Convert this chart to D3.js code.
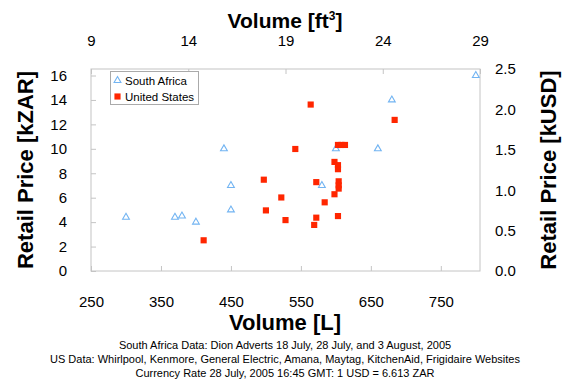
<!DOCTYPE html>
<html>
<head>
<meta charset="utf-8">
<script src="https://cdn.jsdelivr.net/npm/d3@7"></script>
<style>
  body { margin: 0; background: #fff; }
  svg { font-family: "Liberation Sans", Arial, Helvetica, sans-serif; }
</style>
</head>
<body>
<div id="chart"></div>
<script>
// ============================================
// DATA
// ============================================

// South Africa: volume in litres, price in kZAR
const saVolume = [300, 370, 380, 400, 440, 450, 450, 580, 600, 660, 680, 800];
const saPrice  = [4.4, 4.4, 4.5, 4.0, 10.0, 7.0, 5.0, 7.0, 10.0, 10.0, 14.0, 16.0];

// United States: volume in litres, price in kUSD
const usVolume = [411, 564, 542, 497, 500, 522, 528, 569, 572, 572, 584, 598, 598,
                  603, 603, 604, 604, 604, 603, 603, 608, 613, 684];
const usPrice  = [0.38, 2.06, 1.51, 1.13, 0.75, 0.91, 0.63, 0.57, 0.66, 1.10, 0.85, 0.95, 1.35,
                  1.31, 1.26, 1.11, 1.06, 1.02, 0.68, 1.56, 1.56, 1.56, 1.87];

const usdToZar = 6.613;

const litreTicks = [250, 350, 450, 550, 650, 750];
const cubicFootTicks = [9, 14, 19, 24, 29];
const zarTicks = [0, 2, 4, 6, 8, 10, 12, 14, 16];
const usdTicks = [0, 0.5, 1.0, 1.5, 2.0, 2.5];

const footnotes = [
  'South Africa Data: Dion Adverts 18 July, 28 July, and 3 August, 2005',
  'US Data: Whirlpool, Kenmore, General Electric, Amana, Maytag, KitchenAid, Frigidaire Websites',
  'Currency Rate 28 July, 2005 16:45 GMT: 1 USD = 6.613 ZAR'
];

// ============================================
// LAYOUT
// ============================================

const W = 568, H = 381;
const plot = { left: 91, top: 69, right: 480, bottom: 271 };
const frameColor = '#c4c4c4';
const saColor = '#72b4f2';
const usColor = '#ff2600';

const svg = d3.select('#chart').append('svg')
  .attr('width', W)
  .attr('height', H);

const x = d3.scaleLinear().domain([250, 806]).range([plot.left, plot.right]);
const xTop = d3.scaleLinear().domain([9, 29]).range([plot.left, plot.right]);
const yUsd = d3.scaleLinear().domain([0, 2.5]).range([plot.bottom, plot.top]);
const y = d3.scaleLinear().domain([0, 2.5 * usdToZar]).range([plot.bottom, plot.top]);

// frame
svg.append('rect')
  .attr('x', plot.left).attr('y', plot.top)
  .attr('width', plot.right - plot.left)
  .attr('height', plot.bottom - plot.top)
  .attr('fill', 'none')
  .attr('stroke', frameColor);

function styleAxis(g) {
  g.select('.domain').remove();
  g.selectAll('line').attr('stroke', frameColor);
  g.selectAll('text')
    .attr('fill', '#000')
    .style('font-size', '15px')
    .style('font-family', '"Liberation Sans", Arial, sans-serif');
  return g;
}

svg.append('g')
  .attr('transform', `translate(0,${plot.bottom})`)
  .call(d3.axisBottom(x).tickValues(litreTicks).tickSizeInner(-5).tickSizeOuter(0).tickPadding(25))
  .call(styleAxis);

svg.append('g')
  .attr('transform', `translate(0,${plot.top})`)
  .call(d3.axisTop(xTop).tickValues(cubicFootTicks).tickSizeInner(-5).tickSizeOuter(0).tickPadding(23))
  .call(styleAxis);

svg.append('g')
  .attr('transform', `translate(${plot.left},0)`)
  .call(d3.axisLeft(y).tickValues(zarTicks).tickSizeInner(-5).tickSizeOuter(0).tickPadding(24))
  .call(styleAxis);

svg.append('g')
  .attr('transform', `translate(${plot.right},0)`)
  .call(d3.axisRight(yUsd).tickValues(usdTicks).tickFormat(d3.format('.1f'))
    .tickSizeInner(0).tickSizeOuter(0).tickPadding(15))
  .call(styleAxis);

// ============================================
// MARKS
// ============================================

const saPoints = saVolume.map((v, i) => ({ v, p: saPrice[i] }));
const usPoints = usVolume.map((v, i) => ({ v, p: usPrice[i] }));

const tri = d3.symbol(d3.symbolTriangle, 20);
const sq = d3.symbol(d3.symbolSquare, 38);

svg.append('g').selectAll('path')
  .data(saPoints)
  .join('path')
  .attr('d', tri)
  .attr('transform', d => `translate(${x(d.v)},${y(d.p)})`)
  .attr('fill', 'none')
  .attr('stroke', saColor)
  .attr('stroke-width', 1.1);

svg.append('g').selectAll('path')
  .data(usPoints)
  .join('path')
  .attr('d', sq)
  .attr('transform', d => `translate(${x(d.v)},${yUsd(d.p)})`)
  .attr('fill', usColor);

// ============================================
// LEGEND
// ============================================

const legend = svg.append('g');
legend.append('rect')
  .attr('x', 110.5).attr('y', 71.5)
  .attr('width', 88).attr('height', 33)
  .attr('fill', '#fff')
  .attr('stroke', '#aaa');

legend.append('path')
  .attr('d', tri)
  .attr('transform', 'translate(117.5,80.5)')
  .attr('fill', 'none')
  .attr('stroke', saColor)
  .attr('stroke-width', 1.1);
legend.append('text')
  .attr('x', 125).attr('y', 85)
  .style('font-size', '11.5px')
  .text('South Africa');

legend.append('path')
  .attr('d', sq)
  .attr('transform', 'translate(117.5,96.5)')
  .attr('fill', usColor);
legend.append('text')
  .attr('x', 125).attr('y', 101)
  .style('font-size', '11.5px')
  .text('United States');

// ============================================
// TITLES
// ============================================

const topTitle = svg.append('text')
  .attr('x', 285).attr('y', 28)
  .attr('text-anchor', 'middle')
  .style('font-size', '21px')
  .style('font-weight', 'bold');
topTitle.append('tspan').text('Volume [ft');
topTitle.append('tspan').attr('dy', -8).style('font-size', '12px').text('3');
topTitle.append('tspan').attr('dy', 8).text(']');

svg.append('text')
  .attr('x', 285).attr('y', 330)
  .attr('text-anchor', 'middle')
  .style('font-size', '22px')
  .style('font-weight', 'bold')
  .text('Volume [L]');

svg.append('text')
  .attr('transform', 'translate(33,170) rotate(-90)')
  .attr('text-anchor', 'middle')
  .style('font-size', '22px')
  .style('font-weight', 'bold')
  .text('Retail Price [kZAR]');

svg.append('text')
  .attr('transform', 'translate(556,170) rotate(-90)')
  .attr('text-anchor', 'middle')
  .style('font-size', '22px')
  .style('font-weight', 'bold')
  .text('Retail Price [kUSD]');

svg.append('g').selectAll('text')
  .data(footnotes)
  .join('text')
  .attr('x', 285)
  .attr('y', (d, i) => 348.5 + i * 14)
  .attr('text-anchor', 'middle')
  .style('font-size', '11px')
  .text(d => d);
</script>
</body>
</html>
